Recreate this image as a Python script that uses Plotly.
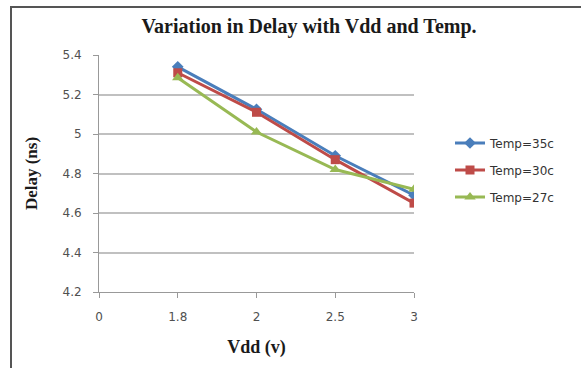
import plotly.graph_objects as go

categories = ["0", "1.8", "2", "2.5", "3"]
vdd = ["1.8", "2", "2.5", "3"]
temp35 = [5.34, 5.125, 4.89, 4.69]
temp30 = [5.31, 5.11, 4.87, 4.65]
temp27 = [5.285, 5.01, 4.82, 4.72]
yticks = [4.2, 4.4, 4.6, 4.8, 5.0, 5.2, 5.4]
yticklabels = ["4.2", "4.4", "4.6", "4.8", "5", "5.2", "5.4"]

series = [
    ("Temp=35c", temp35, "#4A7EBB", "diamond", 9),
    ("Temp=30c", temp30, "#BE4B48", "square", 9),
    ("Temp=27c", temp27, "#98B954", "triangle-up", 10),
]

fig = go.Figure()
for i, (name, vals, color, sym, size) in enumerate(series):
    fig.add_trace(go.Scatter(
        x=vdd, y=vals, name=name, mode="lines+markers",
        line=dict(color=color, width=3),
        marker=dict(symbol=sym, size=size, color=color),
        legendgroup=f"g{i}",
    ))

W, H = 581, 368
L, R, T, B = 99, 414, 55, 292
tickfont = dict(family="DejaVu Sans", size=12, color="#505050")

fig.update_layout(
    width=W, height=H,
    margin=dict(l=L, r=W - R, t=T, b=H - B),
    paper_bgcolor="white", plot_bgcolor="white",
    showlegend=True,
    title=dict(text="<b>Variation in Delay with Vdd and Temp.</b>",
               font=dict(family="Liberation Serif", size=20, color="#1a1a1a"),
               x=309 / W, xref="container", xanchor="center",
               y=1 - 26 / H, yanchor="middle"),
    legend=dict(x=(450 - L) / (R - L), y=1 - (170 - T) / (B - T),
                xanchor="left", yanchor="middle",
                font=dict(family="DejaVu Sans", size=12, color="#333"),
                tracegroupgap=8, bgcolor="rgba(0,0,0,0)"),
    xaxis=dict(type="category", categoryorder="array", categoryarray=categories,
               range=[0, 4], showgrid=False, zeroline=False,
               showline=True, linecolor="#999", linewidth=1,
               ticks="outside", ticklen=5, tickcolor="#999",
               tickmode="array", tickvals=categories, ticktext=categories,
               ticklabelstandoff=9, tickfont=tickfont,
               title=dict(text="<b>Vdd (v)</b>", standoff=16,
                          font=dict(family="Liberation Serif", size=18, color="#1a1a1a"))),
    yaxis=dict(range=[4.2, 5.4], tickvals=yticks, ticktext=yticklabels,
               showgrid=True, gridcolor="#C0C0C0", gridwidth=1.5, zeroline=False,
               showline=True, linecolor="#999", linewidth=1,
               ticks="outside", ticklen=5, tickcolor="#999",
               ticklabelstandoff=9, tickfont=tickfont,
               title=dict(text="<b>Delay (ns)</b>", standoff=20,
                          font=dict(family="Liberation Serif", size=17, color="#1a1a1a"))),
)

# outer chart frame (left and top edges visible)
fig.add_shape(type="rect", xref="paper", yref="paper",
              x0=(11 - L) / (R - L), x1=2.0,
              y0=-1.0, y1=1 + (T - 7) / (B - T),
              line=dict(color="#555", width=2), layer="below")

fig.write_html("out.html")
